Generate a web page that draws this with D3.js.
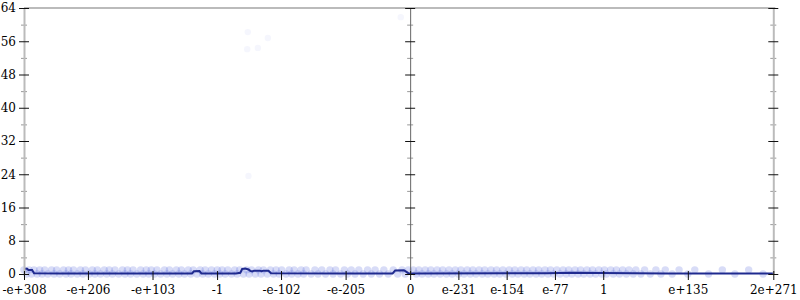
<!DOCTYPE html>
<html><head><meta charset="utf-8">
<script src="https://cdn.jsdelivr.net/npm/d3@7"></script>
<style>body{margin:0;background:#fff}svg{display:block}</style>
</head><body>
<svg id="chart" width="800" height="300"></svg>
<script>
// ---- data ----
const xDomain = [-1e308, 2e271];
const xTickValues = [-1e308, -1e206, -1e103, -1, -1e-102, -1e-205, 0, 1e-231, 1e-154, 1e-77, 1, 1e135, 2e271];
const xTickLabels = ["-e+308", "-e+206", "-e+103", "-1", "-e-102", "-e-205", "0", "e-231", "e-154", "e-77", "1", "e+135", "2e+271"];
const yDomain = [0, 64];
const yMajorTicks = [0, 8, 16, 24, 32, 40, 48, 56, 64];
const yMinorTicks = [4, 12, 20, 28, 36, 44, 52, 60];

// scatter points with value 1
const onesX = [-1.5e308, -1e300, -1e292, -1e283, -1e275, -1e264, -1e256, -1e245, -1e237, -1e229, -1e218, -1e210, -1e199, -1e191, -1e180, -1e172, -1e163, -1e151, -1e143, -1e134, -1e122, -1e113, -1e105, -1e96, -1e84, -1e76, -1e65, -1e57, -1e46, -1e38, -1e27, -1e19, -1e9, -0.5, -1e-8, -1e-17, -1e-28, -1e-36, -1e-47, -1e-55, -1e-66, -1e-74, -1e-85, -1e-94, -1e-103, -1e-115, -1e-123, -1e-134, -1e-142, -1e-156, -1e-167, -1e-180, -1e-189, -1e-203, -1e-214, -1e-226, -1e-240, -1e-252, -1e-266, -1e-281, -1e-295, -1e-305,
  1e-303, 1e-294, 1e-284, 1e-275, 1e-265, 1e-256, 1e-246, 1e-236, 1e-227, 1e-217, 1e-208, 1e-198, 1e-189, 1e-179, 1e-170, 1e-160, 1e-150, 1e-141, 1e-131, 1e-122, 1e-112, 1e-103, 1e-93, 1e-84, 1e-74, 1e-64, 1e-55, 1e-45, 1e-36, 1e-26, 1e-17, 1e-7, 100, 1e12, 1e21, 1e31, 1e41, 1e52, 1e66, 1e84, 1e99, 1e121, 1e146, 1e190, 1e232];
// scatter points with value 0
const zerosX = [-1e304, -1e296, -1e287, -1e279, -1e270, -1e260, -1e251, -1e241, -1e233, -1e223, -1e214, -1e204, -1e195, -1e186, -1e176, -1e167, -1e157, -1e147, -1e138, -1e128, -1e118, -1e109, -1e100, -1e90, -1e80, -1e71, -1e61, -1e52, -1e42, -1e32, -1e23, -1e14, -1e4, -1e-4, -1e-13, -1e-23, -1e-32, -1e-42, -1e-51, -1e-61, -1e-70, -1e-80, -1e-90, -1e-99, -1e-110, -1e-119, -1e-129, -1e-138, -1e-150, -1e-161, -1e-173, -1e-185, -1e-197, -1e-208, -1e-220, -1e-233, -1e-246, -1e-259, -1e-273, -1e-288, -1e-300,
  1e-298, 1e-289, 1e-279, 1e-270, 1e-260, 1e-250, 1e-241, 1e-231, 1e-222, 1e-212, 1e-203, 1e-193, 1e-184, 1e-174, 1e-165, 1e-155, 1e-145, 1e-136, 1e-126, 1e-117, 1e-107, 1e-98, 1e-88, 1e-79, 1e-69, 1e-59, 1e-50, 1e-40, 1e-31, 1e-21, 1e-12, 1e-2, 1e5, 1e16, 1e26, 1e37, 1e48, 1e60, 1e75, 1e92, 1e110, 1e135, 1e168, 1e210, 1e255];
// rare high values
const outlierX = [-1e-49, -1e-81, -1e-48, -1e-65, -1e-50, -1e-293];
const outlierY = [58.2, 56.8, 54.1, 54.4, 23.6, 61.8];

// running line
const lineX = [-1e308, -1e303, -1e301, -1e295, -1e292, -1e250, -1e40, -1e37, -1e28, -1e25, -1e5, -1e-30, -1e-37, -1e-40, -1e-45, -1e-50, -1e-53, -1e-56, -1e-59, -1e-68, -1e-71, -1e-74, -1e-82, -1e-86, -1e-200, -1e-280, -1e-284, -1e-298, -1e-305, 1e-300, 1e-90, 1e-50, 1e-5, 1e100, 2e271];
const lineY = [1.25, 1.25, 0.95, 0.95, 0.2, 0.15, 0.15, 0.65, 0.7, 0.15, 0.15, 0.15, 0.3, 1.2, 1.3, 1.1, 0.75, 0.6, 0.8, 0.8, 0.65, 0.8, 0.8, 0.2, 0.15, 0.15, 0.85, 0.9, 0.2, 0.15, 0.2, 0.3, 0.25, 0.15, 0.12];

// ---- float ordering (bit position of a double) ----
const dv = new DataView(new ArrayBuffer(8));
function ord(v) {
  dv.setFloat64(0, v);
  const hi = dv.getUint32(0), lo = dv.getUint32(4);
  const mag = (hi & 0x7fffffff) * 4294967296 + lo;
  return ((hi >>> 31) ? -mag : mag) / 4503599627370496;
}

const mLeft = 24, mRight = 773.3, mTop = 8, mBottom = 274;
const svg = d3.select("#chart");
const x = d3.scaleLinear().domain(xDomain.map(ord)).range([mLeft, mRight]);
const y = d3.scaleLinear().domain(yDomain).range([mBottom, mTop]);
const px = v => x(ord(v));
const font = "DejaVu Serif";

// frame top
svg.append("line").attr("x1", mLeft).attr("x2", mRight + 2).attr("y1", y(64)).attr("y2", y(64))
  .attr("stroke", "#bbb").attr("stroke-width", 2);

// points
const pts = [];
onesX.forEach(v => pts.push([v, 1]));
zerosX.forEach(v => pts.push([v, 0]));
svg.append("g").selectAll("circle").data(pts).join("circle")
  .attr("cx", d => px(d[0])).attr("cy", d => y(d[1])).attr("r", 3.7)
  .attr("fill", "#3b4fd8").attr("fill-opacity", 0.2);
svg.append("g").selectAll("circle").data(outlierX).join("circle")
  .attr("cx", d => px(d)).attr("cy", (d, i) => y(outlierY[i])).attr("r", 3.2)
  .attr("fill", "#3b4fd8").attr("fill-opacity", 0.05);

// line
svg.append("path").datum(lineX.map((v, i) => [v, lineY[i]]))
  .attr("fill", "none").attr("stroke", "#1f2a8f").attr("stroke-width", 2)
  .attr("d", d3.line().x(d => px(d[0])).y(d => y(d[1])));

function vAxis(xpos, domainColor, domainWidth, labels) {
  const gMin = svg.append("g").attr("transform", `translate(${xpos},0)`)
    .call(d3.axisLeft(y).tickValues(yMinorTicks).tickSize(3).tickSizeOuter(0).tickFormat(""));
  gMin.select(".domain").remove();
  gMin.selectAll(".tick line").attr("x1", 3).attr("stroke", "#999");
  const g = svg.append("g").attr("transform", `translate(${xpos},0)`)
    .call(d3.axisLeft(y).tickValues(yMajorTicks).tickSize(5).tickSizeOuter(0).tickPadding(3)
      .tickFormat(labels ? d3.format("d") : ""));
  g.select(".domain").attr("stroke", domainColor).attr("stroke-width", domainWidth);
  g.selectAll(".tick line").attr("x1", 5).attr("stroke", "#111");
  g.selectAll("text").attr("font-family", font).attr("font-size", 12).attr("fill", "#000");
  return g;
}
vAxis(mLeft, "#bbb", 2, true);
vAxis(px(0), "#666", 1, false);
vAxis(mRight, "#bbb", 2, false);

// bottom axis
const gx = svg.append("g").attr("transform", `translate(0,${mBottom})`)
  .call(d3.axisBottom(x).tickValues(xTickValues.map(ord)).tickSize(6).tickPadding(5)
    .tickFormat((d, i) => xTickLabels[i]));
gx.select(".domain").remove();
gx.selectAll(".tick line").attr("y1", -3).attr("stroke", "#111");
gx.selectAll("text").attr("font-family", font).attr("font-size", 12).attr("fill", "#000");
</script>
</body></html>
